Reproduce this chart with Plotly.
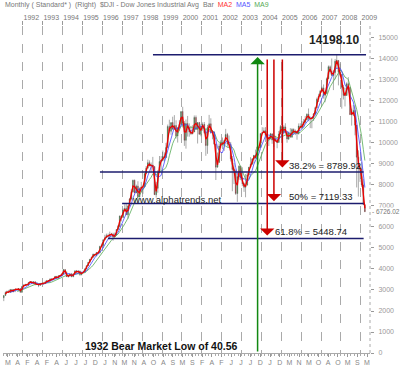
import plotly.graph_objects as go
import pandas as pd

# ---------------- data (monthly DJIA, Jan 1991 - Mar 2009) ----------------
first_open = 2633
closes = [
    2736, 2882, 2914, 2888, 3028, 2907, 3025, 3044, 3017, 3069, 2895, 3169,   # 1991
    3223, 3267, 3236, 3359, 3397, 3319, 3394, 3257, 3272, 3226, 3306, 3301,   # 1992
    3310, 3370, 3435, 3428, 3527, 3516, 3540, 3651, 3555, 3681, 3684, 3754,   # 1993
    3978, 3832, 3636, 3682, 3758, 3625, 3765, 3913, 3843, 3908, 3739, 3834,   # 1994
    3844, 4011, 4158, 4321, 4465, 4556, 4709, 4647, 4789, 4756, 5075, 5117,   # 1995
    5395, 5486, 5588, 5569, 5643, 5655, 5529, 5616, 5882, 6029, 6522, 6448,   # 1996
    6813, 6878, 6583, 7009, 7331, 7673, 8223, 7622, 7945, 7442, 7823, 7908,   # 1997
    7907, 8546, 8800, 9063, 8900, 8952, 8883, 7539, 7843, 8592, 9117, 9181,   # 1998
    9359, 9307, 9786, 10789, 10560, 10971, 10655, 10829, 10337, 10730, 10878, 11497,  # 1999
    10941, 10128, 10922, 10734, 10522, 10448, 10522, 11215, 10651, 10971, 10415, 10787,  # 2000
    10887, 10495, 9879, 10735, 10912, 10502, 10523, 9950, 8848, 9075, 9852, 10021,  # 2001
    9920, 10106, 10404, 9946, 9925, 9243, 8737, 8664, 7592, 8397, 8896, 8342,  # 2002
    8054, 7891, 7992, 8480, 8850, 8985, 9234, 9416, 9275, 9801, 9782, 10454,  # 2003
    10488, 10584, 10358, 10226, 10188, 10435, 10140, 10174, 10080, 10027, 10428, 10783,  # 2004
    10490, 10766, 10504, 10193, 10467, 10275, 10641, 10482, 10569, 10440, 10806, 10718,  # 2005
    10865, 10993, 11109, 11367, 11168, 11150, 11186, 11381, 11679, 12081, 12222, 12463,  # 2006
    12622, 12269, 12354, 13063, 13628, 13409, 13212, 13358, 13896, 13930, 13372, 13265,  # 2007
    12650, 12266, 12263, 12820, 12638, 11350, 11378, 11544, 10851, 9325, 8829, 8776,  # 2008
    8001, 7063, 6726.02,                                                      # 2009
]
highs = [
    2736, 2934, 2973, 3004, 3028, 3035, 3025, 3055, 3047, 3077, 3070, 3169,
    3272, 3283, 3291, 3367, 3414, 3414, 3413, 3395, 3376, 3272, 3306, 3333,
    3310, 3443, 3478, 3478, 3554, 3553, 3567, 3652, 3652, 3687, 3710, 3794,
    3978, 3978, 3895, 3705, 3766, 3811, 3765, 3917, 3953, 3936, 3908, 3862,
    3932, 4011, 4158, 4321, 4465, 4589, 4727, 4709, 4801, 4802, 5105, 5216,
    5395, 5630, 5683, 5689, 5778, 5719, 5729, 5733, 5894, 6094, 6547, 6560,
    6883, 7079, 7085, 7009, 7383, 7796, 8254, 8259, 8015, 8178, 7881, 8149,
    7978, 8546, 8906, 9211, 9172, 9070, 9338, 8883, 8154, 8706, 9380, 9374,
    9643, 9552, 10006, 10878, 11108, 10971, 11252, 11326, 11079, 10730, 11089, 11497,
    11723, 11041, 11119, 11287, 10934, 10815, 10843, 11310, 11311, 10977, 11003, 10899,
    10983, 11000, 10690, 10863, 11337, 11176, 10610, 10551, 9950, 9545, 9982, 10137,
    10260, 10145, 10673, 10479, 10353, 10049, 9380, 9053, 8734, 8538, 8931, 8909,
    8842, 8110, 8522, 8586, 8850, 9323, 9284, 9428, 9686, 9837, 9837, 10454,
    10753, 10738, 10754, 10571, 10317, 10479, 10362, 10195, 10342, 10239, 10572, 10854,
    10783, 10841, 10940, 10562, 10542, 10705, 10705, 10697, 10641, 10569, 10931, 10940,
    11043, 11137, 11279, 11412, 11643, 11261, 11228, 11427, 11719, 12163, 12342, 12529,
    12683, 12786, 12481, 13120, 13692, 13692, 14022, 13468, 14000, 14198, 13932, 13778,
    13279, 12767, 12622, 12891, 13136, 12604, 11632, 11808, 11790, 10831, 9653, 9026,
    9088, 8280, 7063,
]
lows = [
    2470, 2730, 2855, 2873, 2866, 2906, 2907, 2898, 2974, 2942, 2876, 2863,
    3173, 3208, 3208, 3181, 3336, 3274, 3279, 3228, 3251, 3136, 3193, 3255,
    3241, 3309, 3355, 3370, 3437, 3466, 3484, 3540, 3537, 3555, 3624, 3684,
    3756, 3832, 3626, 3593, 3629, 3624, 3625, 3747, 3831, 3775, 3674, 3694,
    3832, 3844, 3980, 4138, 4303, 4443, 4556, 4580, 4610, 4703, 4756, 5059,
    5000, 5373, 5470, 5485, 5420, 5624, 5346, 5529, 5606, 5882, 5981, 6268,
    6442, 6746, 6583, 6391, 6976, 7269, 7654, 7622, 7622, 7161, 7401, 7660,
    7580, 7906, 8539, 8800, 8899, 8627, 8883, 7539, 7400, 7632, 8592, 8695,
    9121, 9133, 9276, 9786, 10466, 10391, 10655, 10646, 10213, 10019, 10581, 10878,
    10738, 9862, 9731, 10305, 10299, 10376, 10406, 10522, 10628, 9975, 10399, 10318,
    10587, 10441, 9389, 9485, 10735, 10434, 10175, 9919, 8236, 8837, 9075, 9763,
    9712, 9625, 10106, 9819, 9808, 9120, 7702, 8043, 7528, 7197, 8247, 8232,
    7945, 7673, 7416, 7992, 8454, 8850, 8985, 9036, 9275, 9275, 9619, 9782,
    10409, 10470, 10048, 10226, 9852, 10188, 9962, 9814, 10080, 9749, 10027, 10428,
    10368, 10489, 10405, 10012, 10140, 10275, 10270, 10397, 10375, 10156, 10406, 10718,
    10667, 10750, 10958, 11073, 11038, 10706, 10699, 11046, 11365, 11669, 11951, 12177,
    12398, 12114, 11939, 12354, 13062, 13266, 13212, 12518, 13028, 13522, 12743, 13167,
    11635, 12071, 11740, 12263, 12479, 11346, 10827, 11285, 10365, 7882, 7449, 8149,
    7909, 7062, 6726,
]
dates = pd.date_range("1991-01-01", periods=len(closes), freq="MS") + pd.Timedelta(days=14)

# bottom axis letters (StockCharts style month initials)
month_letters = list("MAFAFAJJJDJNMNAOASMSFAFJJJDJDMNMOAOMSM")
month_label_dates = [
    "1991-04-02", "1991-09-27", "1992-03-25", "1992-09-19", "1993-03-16", "1993-09-10",
    "1994-03-07", "1994-09-01", "1995-02-26", "1995-08-23", "1996-02-18", "1996-08-14",
    "1997-02-10", "1997-08-07", "1998-02-01", "1998-07-28", "1999-01-23", "1999-07-19",
    "2000-01-12", "2000-07-10", "2001-01-05", "2001-07-02", "2001-12-28", "2002-06-24",
    "2002-12-19", "2003-06-16", "2003-12-10", "2004-06-06", "2004-12-01", "2005-05-29",
    "2005-11-23", "2006-05-20", "2006-11-13", "2007-05-11", "2007-11-05", "2008-05-02",
    "2008-10-28", "2009-04-23",
]
years = list(range(1992, 2010))
year_starts = [f"{y}-01-01" for y in years]
year_label_pos = [f"{y}-06-05" for y in years]
year_labels = [str(y) for y in years]
y_ticks = list(range(0, 15001, 1000))
y_tick_labels = [str(v) for v in y_ticks]

# drawn retracement levels and labels
peak_label = "14198.10"
peak_level = 14198.10
fib_levels = [8620, 7119.33, 5448.74]          # as drawn on the chart
fib_labels = ["38.2% = 8789.92", "50% = 7119.33", "61.8% = 5448.74"]
last_label = "6726.02"

FONT = "Liberation Sans, Arial, sans-serif"
NAVY = "#1c1c6e"
RED = "#cc0000"

opens = [first_open] + closes[:-1]
s = pd.Series(closes)
ma2 = s.rolling(2).mean()
ma5 = s.rolling(5).mean()
ma9 = s.rolling(9).mean()

fig = go.Figure()
fig.add_trace(go.Candlestick(
    x=dates, open=opens, high=highs, low=lows, close=closes,
    increasing=dict(fillcolor="#1f9a1f", line=dict(color="#555555", width=0.5)),
    decreasing=dict(fillcolor="#ee1111", line=dict(color="#555555", width=0.5)),
    whiskerwidth=0, showlegend=False, hoverinfo="skip",
))
fig.add_trace(go.Scatter(x=dates, y=ma9, mode="lines", line=dict(color="#55aa55", width=0.8),
                         showlegend=False, hoverinfo="skip"))
fig.add_trace(go.Scatter(x=dates, y=ma5, mode="lines", line=dict(color="#4444ff", width=0.8),
                         showlegend=False, hoverinfo="skip"))
fig.add_trace(go.Scatter(x=dates, y=ma2, mode="lines", line=dict(color="#ee0000", width=1.3),
                         showlegend=False, hoverinfo="skip"))
# invisible traces to carry the top axes
for ax in ["x2", "x3"]:
    fig.add_trace(go.Scatter(x=[dates[0], dates[-1]], y=[None, None], xaxis=ax, yaxis="y",
                             showlegend=False, hoverinfo="skip"))

xr = ["1991-01-01", "2009-06-17"]

shapes = []
shapes.append(dict(type="line", xref="x", yref="y", x0="1998-07-18", x1="2009-04-05",
                   y0=peak_level, y1=peak_level, line=dict(color=NAVY, width=1.5)))
for x0, lvl in zip(["1995-11-17", "1996-12-28", "1996-04-12"], fib_levels):
    shapes.append(dict(type="line", xref="x", yref="y", x0=x0, x1="2009-02-20",
                       y0=lvl, y1=lvl, line=dict(color=NAVY, width=1.5)))
shapes.append(dict(type="line", xref="paper", yref="paper", x0=1, x1=1, y0=0, y1=1,
                   line=dict(color="#aaaaaa", width=1, dash="dot")))

annotations = []
annotations.append(dict(
    xref="paper", yref="paper", x=0, y=1, xanchor="left", yanchor="middle", yshift=21, showarrow=False,
    text="Monthly ( Standard* )  (Right)  $DJI - Dow Jones Industrial Avg  Bar  "
         "<span style='color:#ff3333'>MA2</span>  <span style='color:#5555ff'>MA5</span>  "
         "<span style='color:#55aa55'>MA9</span>",
    font=dict(family=FONT, size=7, color="#777777")))
annotations.append(dict(xref="x", yref="y", axref="x", ayref="y", x="2003-10-22", y=14095,
                        ax="2003-10-22", ay=0, showarrow=True, arrowhead=1, arrowsize=1.6,
                        arrowwidth=1.5, arrowcolor="#118811", text=""))
for xa, tip in zip(["2005-01-19", "2004-08-17", "2004-04-16"], [8830, 7230, 5590]):
    annotations.append(dict(xref="x", yref="y", axref="x", ayref="y", x=xa, y=tip,
                            ax=xa, ay=14048, showarrow=True, arrowhead=1, arrowsize=1.6,
                            arrowwidth=1.5, arrowcolor=RED, text=""))
annotations.append(dict(xref="x", yref="y", x="2009-01-01", y=14905, xanchor="right", yanchor="middle",
                        showarrow=False, text="<b>" + peak_label + "</b>",
                        font=dict(family=FONT, size=12, color="#222222")))
for x0, yy, txt in zip(["2005-04-15", "2005-04-15", "2004-07-30"], [8905, 7429, 5762], fib_labels):
    annotations.append(dict(xref="x", yref="y", x=x0, y=yy, xanchor="left", yanchor="middle",
                            showarrow=False, text=txt, font=dict(family=FONT, size=9.5, color="#222222")))
annotations.append(dict(xref="x", yref="y", x="1997-05-22", y=7300, xanchor="left", yanchor="middle",
                        showarrow=False, text="www.alphatrends.net",
                        font=dict(family=FONT, size=9.5, color="#222222")))
annotations.append(dict(xref="x", yref="y", x="1995-01-08", y=333, xanchor="left", yanchor="middle",
                        showarrow=False, text="<b>1932 Bear Market Low of 40.56</b>",
                        font=dict(family=FONT, size=10.5, color="#111111")))
annotations.append(dict(xref="paper", yref="y", x=1, y=6726.02, xanchor="left", yanchor="middle",
                        xshift=1, showarrow=False, text="- " + last_label, bgcolor="white", borderpad=0,
                        font=dict(family=FONT, size=6.5, color="#777777")))

fig.update_layout(
    width=400, height=372,
    margin=dict(l=3, r=30, t=26, b=19),
    paper_bgcolor="white", plot_bgcolor="white",
    font=dict(family=FONT),
    xaxis=dict(
        type="date", range=xr, rangeslider=dict(visible=False),
        tickmode="array", tickvals=month_label_dates, ticktext=month_letters,
        ticks="outside", ticklen=3, tickcolor="#999999", tickwidth=1,
        tickfont=dict(family=FONT, size=7, color="#888888"),
        showline=True, linecolor="#aaaaaa", linewidth=1,
        showgrid=False, zeroline=False,
        minor=dict(tickmode="linear", tick0="1991-01-01", dtick="M2", ticks="outside",
                   ticklen=2, tickcolor="#aaaaaa", showgrid=False),
    ),
    xaxis2=dict(
        type="date", overlaying="x", side="top", matches="x", range=xr,
        tickmode="array", tickvals=year_label_pos, ticktext=year_labels,
        ticks="", ticklabelstandoff=4,
        tickfont=dict(family=FONT, size=7, color="#777777"),
        showgrid=False, showline=False, zeroline=False,
    ),
    xaxis3=dict(
        type="date", overlaying="x", side="top", matches="x", range=xr,
        tickmode="array", tickvals=year_starts, showticklabels=False,
        ticks="outside", ticklen=4, tickcolor="#999999",
        showgrid=True, gridcolor="#aaaaaa", griddash="dash", gridwidth=1,
        showline=False, zeroline=False,
    ),
    yaxis=dict(
        side="right", range=[0, 15570], tickmode="array", tickvals=y_ticks, ticktext=y_tick_labels,
        ticks="outside", ticklen=3, tickcolor="#999999", ticklabelstandoff=3,
        tickfont=dict(family=FONT, size=7, color="#999999"),
        showgrid=False, zeroline=False, showline=False,
    ),
    shapes=shapes, annotations=annotations,
)

fig.write_html("out.html", config={"displayModeBar": False, "staticPlot": True},
               post_script="document.body.style.margin='0';document.body.style.overflow='hidden';")
